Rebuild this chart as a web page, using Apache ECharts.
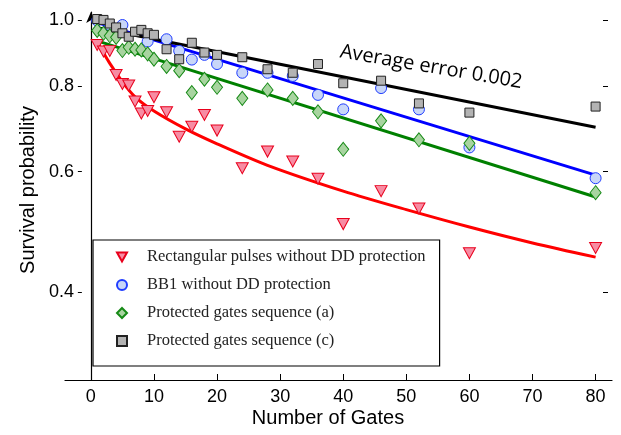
<!DOCTYPE html>
<html>
<head>
<meta charset="utf-8">
<script src="https://cdn.jsdelivr.net/npm/echarts@6/dist/echarts.min.js"></script>
<style>
  html, body { margin: 0; padding: 0; background: #fff; }
  #chart { width: 621px; height: 435px; }
</style>
</head>
<body>
<div id="chart"></div>
<script>
// Survival probability versus number of gates (log-scaled y axis)
const gateCounts = [1, 2, 3, 4, 5, 6, 7, 8, 9, 10, 12, 14, 16, 18, 20, 24, 28, 32, 36, 40, 46, 52, 60, 80];

const rectPulses = [0.919, 0.899, 0.901, 0.831, 0.806, 0.802, 0.760, 0.730, 0.736, 0.771, 0.733, 0.675,
                    0.698, 0.726, 0.689, 0.607, 0.642, 0.621, 0.586, 0.503, 0.562, 0.530, 0.456, 0.464];

const bb1Gates = [1, 3, 5, 9, 12, 14, 16, 18, 20, 24, 28, 32, 36, 40, 46, 52, 60, 80];
const bb1Values = [0.998, 0.983, 0.983, 0.930, 0.937, 0.901, 0.875, 0.889, 0.862, 0.837, 0.837, 0.828,
                   0.777, 0.740, 0.795, 0.740, 0.651, 0.587];

const seqA = [0.965, 0.956, 0.948, 0.943, 0.902, 0.912, 0.906, 0.904, 0.892, 0.876, 0.855, 0.843,
              0.783, 0.819, 0.797, 0.768, 0.790, 0.768, 0.734, 0.647, 0.712, 0.668, 0.660, 0.559];

const seqC = [1.003, 1.000, 0.988, 0.975, 0.956, 0.945, 0.961, 0.967, 0.956, 0.951, 0.906, 0.876,
              0.926, 0.896, 0.889, 0.882, 0.847, 0.837, 0.862, 0.808, 0.815, 0.755, 0.732, 0.747];

// Fitted decay curves
const fitRectGates = [1, 2, 3, 5, 7, 10, 15, 20, 28, 40, 50, 60, 70, 80];
const fitRectValues = [0.927, 0.895, 0.864, 0.812, 0.772, 0.736, 0.693, 0.659, 0.613, 0.562, 0.528, 0.498, 0.472, 0.450];
const fitLineGates = [1, 80];
const fitBB1 = [0.991, 0.593];
const fitSeqA = [0.932, 0.551];
const fitSeqC = [0.974, 0.697];

const xTicks = [0, 10, 20, 30, 40, 50, 60, 70, 80];
const yTicks = [0.4, 0.6, 0.8, 1.0];

const names = [
  'Rectangular pulses without DD protection',
  'BB1 without DD protection',
  'Protected gates sequence (a)',
  'Protected gates sequence (c)'
];

const pairs = (xs, ys) => xs.map((x, i) => [x, ys[i]]);

const yMin = 0.2976;
const yMax = 1.027;
const sans = '"Liberation Sans", Arial, sans-serif';

const chart = echarts.init(document.getElementById('chart'), null, { renderer: 'canvas' });

function fitLine(data, color, smooth) {
  return {
    type: 'line',
    data: data,
    showSymbol: false,
    smooth: smooth ? 0.3 : false,
    silent: true,
    z: 1,
    lineStyle: { color: color, width: 3 },
    itemStyle: { color: color }
  };
}

function markers(name, data, symbol, size, fill, stroke) {
  return {
    type: 'scatter',
    name: name,
    data: data,
    symbol: symbol,
    symbolSize: size,
    z: 3,
    itemStyle: { color: fill, borderColor: stroke, borderWidth: 1, opacity: 1 }
  };
}

chart.setOption({
  animation: false,
  backgroundColor: '#fff',
  grid: { left: 65, right: 9, top: 12, bottom: 55, outerBoundsMode: 'none' },
  xAxis: {
    type: 'value',
    min: -4.1,
    max: 82.6,
    axisLine: { onZero: false, lineStyle: { color: '#000', width: 1.2 } },
    axisTick: { inside: true, length: 6, customValues: xTicks, lineStyle: { color: '#000' } },
    axisLabel: { customValues: xTicks, fontSize: 18, fontFamily: sans, color: '#000', margin: 8 },
    splitLine: { show: false }
  },
  yAxis: [
    {
      type: 'log',
      logBase: 10,
      min: yMin,
      max: yMax,
      axisLine: {
        show: true,
        onZero: true,
        symbol: ['none', 'arrow'],
        symbolSize: [7, 11],
        lineStyle: { color: '#000', width: 1.2 }
      },
      axisTick: { show: true, length: 13, customValues: yTicks, lineStyle: { color: '#000', type: [0, 9, 4] } },
      axisLabel: {
        customValues: yTicks,
        formatter: v => Number(v).toFixed(1),
        fontSize: 18, fontFamily: sans, color: '#000', margin: -9
      },
      splitLine: { show: false }
    },
    {
      type: 'log',
      logBase: 10,
      min: yMin,
      max: yMax,
      position: 'right',
      axisLine: { show: false, onZero: false },
      axisTick: { show: true, inside: true, length: 9, customValues: yTicks, lineStyle: { color: '#000', type: [0, 4, 5] } },
      axisLabel: { show: false },
      splitLine: { show: false }
    }
  ],
  legend: {
    data: names,
    orient: 'vertical',
    left: 93,
    top: 240,
    itemWidth: 10,
    itemHeight: 10,
    itemGap: 10,
    padding: [8, 14, 16, 23],
    borderColor: '#000',
    borderWidth: 1.2,
    selectedMode: false,
    textStyle: {
      fontFamily: '"Liberation Serif", "DejaVu Serif", serif',
      fontSize: 16.5,
      color: '#222',
      lineHeight: 18,
      padding: [0, 0, 0, 15]
    }
  },
  graphic: [
    {
      type: 'text', x: 328, y: 418,
      style: { text: 'Number of Gates', font: '20px ' + sans, fill: '#000', align: 'center', verticalAlign: 'middle' }
    },
    {
      type: 'text', x: 28, y: 190, rotation: Math.PI / 2,
      style: { text: 'Survival probability', font: '20px ' + sans, fill: '#000', align: 'center', verticalAlign: 'middle' }
    },
    {
      type: 'text', x: 431, y: 67, rotation: -0.168,
      style: { text: 'Average error 0.002', font: '20px "Open Sans", sans-serif', fill: '#000', align: 'center', verticalAlign: 'middle' }
    }
  ],
  series: [
    fitLine(pairs(fitRectGates, fitRectValues), '#ff0000', true),
    fitLine(pairs(fitLineGates, fitBB1), '#0000ff', false),
    fitLine(pairs(fitLineGates, fitSeqA), '#008000', false),
    fitLine(pairs(fitLineGates, fitSeqC), '#000000', false),
    markers(names[0], pairs(gateCounts, rectPulses), 'path://M0,0L10,0L5,9Z', [12, 11], '#f78ca3', '#e8001c'),
    markers(names[1], pairs(bb1Gates, bb1Values), 'circle', 11, '#c8d6f8', '#1f3cff'),
    markers(names[2], pairs(gateCounts, seqA), 'diamond', [11, 14], '#a8d4a0', '#168a16'),
    markers(names[3], pairs(gateCounts, seqC), 'rect', 9, '#b3b3b3', '#222222')
  ]
});
</script>
</body>
</html>
